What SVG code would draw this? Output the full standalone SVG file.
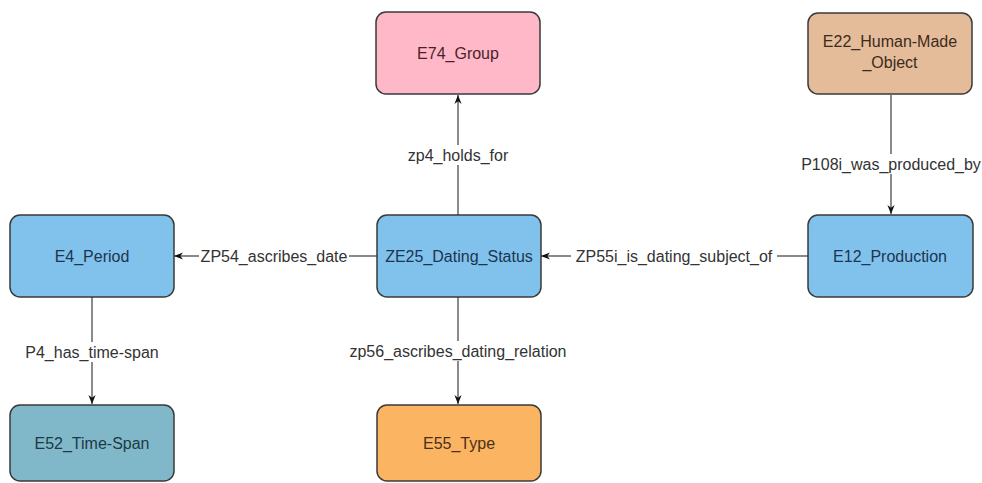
<svg xmlns="http://www.w3.org/2000/svg" width="982" height="483" viewBox="0 0 982 483">
<defs>
<marker id="arr" viewBox="0 0 10 10" refX="10" refY="5" markerWidth="9" markerHeight="9" markerUnits="userSpaceOnUse" orient="auto">
<path d="M0,1 L10,5 L0,9 L3,5 Z" fill="#111"/>
</marker>
<style>
.node rect{stroke:#3a3a3a;stroke-width:1.5}
.node text{font-family:"Liberation Sans",Arial,sans-serif;font-size:16px;text-anchor:middle;dominant-baseline:central}
.edge{stroke:#8a8a8a;stroke-width:2;fill:none}
.lbl{font-family:"Liberation Sans",Arial,sans-serif;font-size:16px;text-anchor:middle;dominant-baseline:central;fill:#333}
.bg{fill:#fff}
</style>
</defs>
<rect width="982" height="483" fill="#fff"/>
<g id="connectors">
<line class="edge" x1="458" y1="215" x2="458" y2="95" marker-end="url(#arr)"/>
<rect class="bg" x="392" y="145" width="132" height="20"/>
<text class="lbl" x="458" y="155">zp4_holds_for</text>

<line class="edge" x1="891" y1="95" x2="891" y2="214" marker-end="url(#arr)"/>
<rect class="bg" x="800" y="154" width="182" height="20"/>
<text class="lbl" x="891" y="164">P108i_was_produced_by</text>

<line class="edge" x1="377" y1="256" x2="174" y2="256" marker-end="url(#arr)"/>
<rect class="bg" x="199" y="246" width="150" height="20"/>
<text class="lbl" x="274" y="256">ZP54_ascribes_date</text>

<line class="edge" x1="808" y1="256" x2="541" y2="256" marker-end="url(#arr)"/>
<rect class="bg" x="571" y="246" width="206" height="20"/>
<text class="lbl" x="674" y="256">ZP55i_is_dating_subject_of</text>

<line class="edge" x1="92" y1="297" x2="92" y2="404" marker-end="url(#arr)"/>
<rect class="bg" x="22" y="342" width="140" height="20"/>
<text class="lbl" x="92" y="352">P4_has_time-span</text>

<line class="edge" x1="458" y1="297" x2="458" y2="404" marker-end="url(#arr)"/>
<rect class="bg" x="336" y="341" width="244" height="20"/>
<text class="lbl" x="458" y="351">zp56_ascribes_dating_relation</text>
</g>

<g id="E74_Group" class="node">
<rect x="376" y="12" width="164" height="82" rx="10" fill="#ffb8c7"/>
<text x="458" y="53" fill="#4a1f2a">E74_Group</text>
</g>
<g id="E22_Human-Made_Object" class="node">
<rect x="808" y="13" width="164" height="81" rx="10" fill="#e4bc9a"/>
<text x="890" y="41" fill="#3e2a1c">E22_Human-Made</text>
<text x="890" y="62" fill="#3e2a1c">_Object</text>
</g>
<g id="E4_Period" class="node">
<rect x="10" y="215" width="164" height="82" rx="10" fill="#80c2ec"/>
<text x="92" y="256" fill="#1c3550">E4_Period</text>
</g>
<g id="ZE25_Dating_Status" class="node">
<rect x="377" y="215" width="164" height="82" rx="10" fill="#80c2ec"/>
<text x="459" y="256" fill="#1c3550">ZE25_Dating_Status</text>
</g>
<g id="E12_Production" class="node">
<rect x="808" y="215" width="165" height="82" rx="10" fill="#80c2ec"/>
<text x="890" y="256" fill="#1c3550">E12_Production</text>
</g>
<g id="E52_Time-Span" class="node">
<rect x="10" y="405" width="164" height="76" rx="10" fill="#80b8ca"/>
<text x="92" y="443" fill="#1d3a44">E52_Time-Span</text>
</g>
<g id="E55_Type" class="node">
<rect x="377" y="405" width="164" height="76" rx="10" fill="#fbb462"/>
<text x="459" y="443" fill="#4a3018">E55_Type</text>
</g>
</svg>
